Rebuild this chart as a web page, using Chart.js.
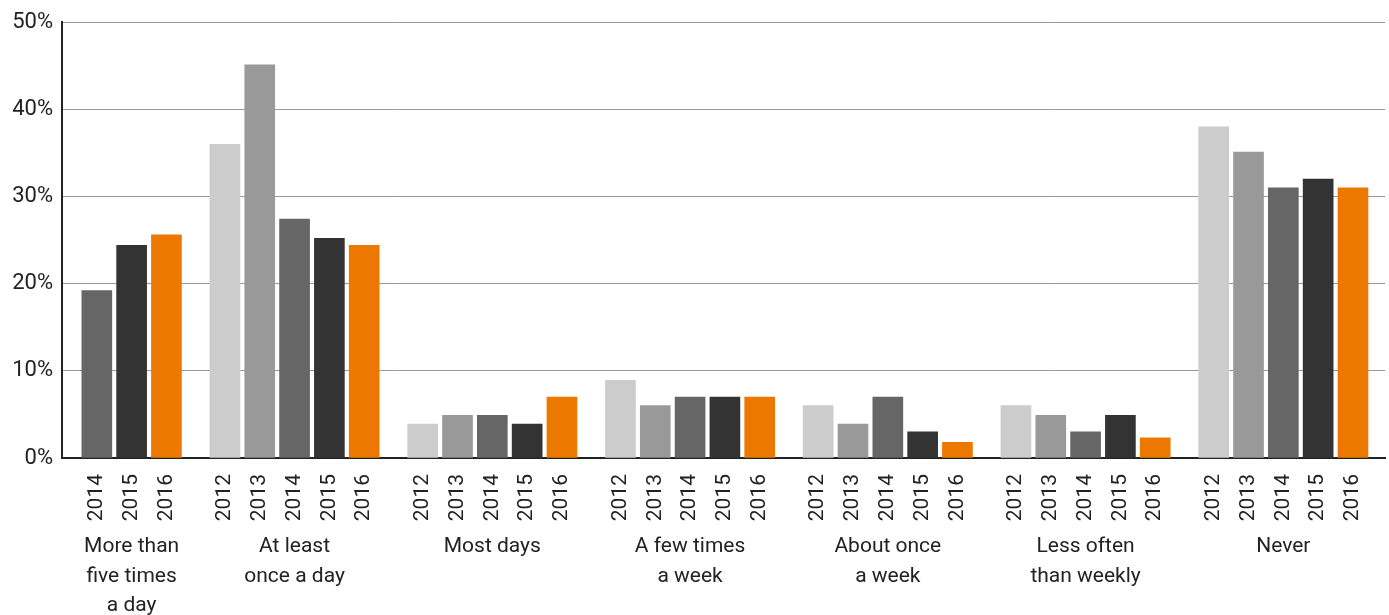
<!DOCTYPE html>
<html>
<head>
<meta charset="utf-8">
<style>
  html, body { margin: 0; padding: 0; background: #fff; }
</style>
<script src="https://cdn.jsdelivr.net/npm/chart.js@4.4.1/dist/chart.umd.min.js"></script>
</head>
<body>
<canvas id="freqChart" width="1389" height="615"></canvas>
<script>
// --- data ---
const categories = [
  ["More than", "five times", "a day"],
  ["At least", "once a day"],
  ["Most days"],
  ["A few times", "a week"],
  ["About once", "a week"],
  ["Less often", "than weekly"],
  ["Never"]
];
const years = ["2012", "2013", "2014", "2015", "2016"];
const v2012 = [null, 36.0, 3.9, 8.9, 6.0, 6.0, 38.0];
const v2013 = [null, 45.1, 4.9, 6.0, 3.9, 4.9, 35.1];
const v2014 = [19.2, 27.4, 4.9, 7.0, 7.0, 3.0, 31.0];
const v2015 = [24.4, 25.2, 3.9, 7.0, 3.0, 4.9, 32.0];
const v2016 = [25.6, 24.4, 7.0, 7.0, 1.8, 2.3, 31.0];
const yTicks = [0, 10, 20, 30, 40, 50];

// --- styles ---
const yearColors = ["#cccccc", "#999999", "#666666", "#333333", "#ec7800"];
const TEXT = "#222222";
const FONT = "Roboto, 'Open Sans', sans-serif";
const GROUP_GAP = 0.68; // extra space between groups, in bar slots

// ðŸ”¹ Slot positions on a linear x scale (one slot per bar, gap between groups)
const series = [v2012, v2013, v2014, v2015, v2016];
const tickLabels = [];
const tickValues = [];
const groupCenters = [];
const datasetPoints = years.map(() => []);
let cursor = 0;
categories.forEach((_, g) => {
  const first = cursor;
  series.forEach((vals, s) => {
    if (vals[g] == null) return;
    datasetPoints[s].push({ x: cursor, y: vals[g] });
    tickValues.push(cursor);
    tickLabels.push(years[s]);
    cursor += 1;
  });
  groupCenters.push((first + cursor - 1) / 2);
  cursor += GROUP_GAP;
});

// ðŸ”¹ Category labels under the year ticks
const groupLabelPlugin = {
  id: "groupLabels",
  afterDraw(chart) {
    const { ctx, chartArea, scales } = chart;
    ctx.save();
    ctx.font = `21px ${FONT}`;
    ctx.fillStyle = TEXT;
    ctx.textAlign = "center";
    ctx.textBaseline = "alphabetic";
    groupCenters.forEach((c, i) => {
      const px = scales.x.getPixelForValue(c);
      categories[i].forEach((line, j) => {
        ctx.fillText(line, px, chartArea.bottom + 94 + j * 29.5);
      });
    });
    ctx.restore();
  }
};

new Chart(document.getElementById("freqChart"), {
  type: "bar",
  data: {
    datasets: years.map((yr, i) => ({
      label: yr,
      data: datasetPoints[i],
      backgroundColor: yearColors[i],
      barThickness: 30,
      grouped: false
    }))
  },
  options: {
    responsive: false,
    animation: false,
    layout: { padding: { top: 22, right: 4, left: 0, bottom: 0 } },
    plugins: {
      legend: { display: false },
      tooltip: { enabled: false }
    },
    scales: {
      x: {
        type: "linear",
        offset: false,
        min: -1,
        max: 37,
        grid: { display: false },
        border: { display: true, color: TEXT, width: 2 },
        afterBuildTicks: scale => {
          scale.ticks = tickValues.map(v => ({ value: v }));
        },
        afterFit: scale => { scale.height = 157; },
        ticks: {
          autoSkip: false,
          minRotation: 90,
          maxRotation: 90,
          padding: 8,
          color: TEXT,
          font: { family: FONT, size: 21 },
          callback: (value, index) => tickLabels[index]
        }
      },
      y: {
        min: 0,
        max: 50,
        afterBuildTicks: scale => {
          scale.ticks = yTicks.map(v => ({ value: v }));
        },
        afterFit: scale => { scale.width = 62; },
        grid: {
          drawTicks: false,
          color: ctx => (ctx.tick && ctx.tick.value === 0 ? "rgba(0,0,0,0)" : "#999999"),
          lineWidth: 1
        },
        border: { display: true, color: TEXT, width: 2 },
        ticks: {
          padding: 9,
          color: TEXT,
          font: { family: FONT, size: 22 },
          callback: v => `${v}%`
        }
      }
    }
  },
  plugins: [groupLabelPlugin]
});
</script>
</body>
</html>
